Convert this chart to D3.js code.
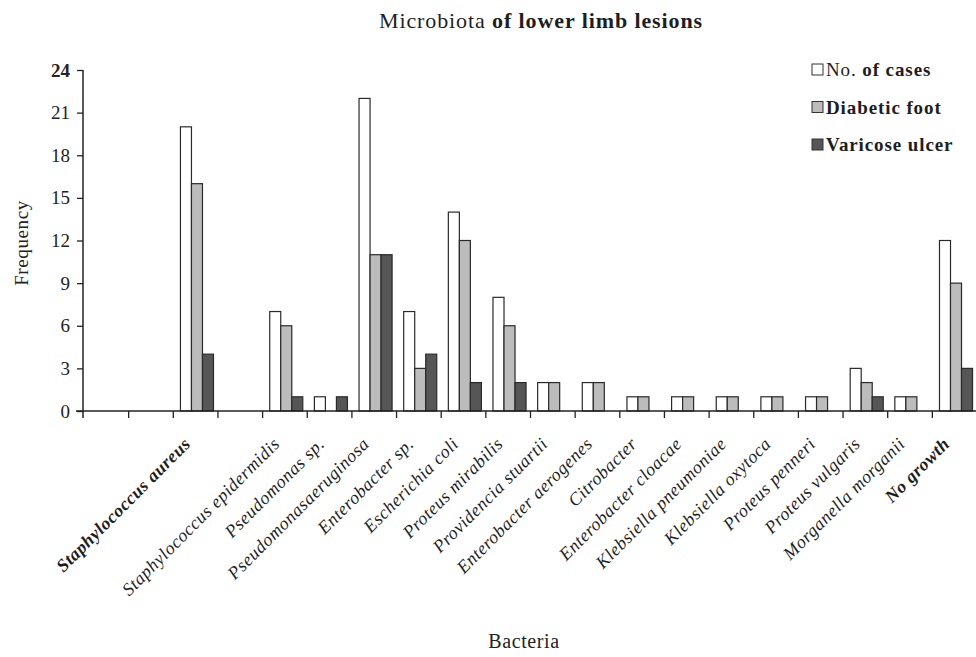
<!DOCTYPE html>
<html><head><meta charset="utf-8">
<script src="https://cdn.jsdelivr.net/npm/d3@7"></script>
<style>body{margin:0;background:#fff}svg{display:block}</style>
</head><body>
<svg id="c" width="976" height="657"></svg>
<script>
const categories = ["", " ", "Staphylococcus aureus", "  ", "Staphylococcus epidermidis", "Pseudomonas sp.", "Pseudomonasaeruginosa", "Enterobacter sp.", "Escherichia coli", "Proteus mirabilis", "Providencia stuartii", "Enterobacter aerogenes", "Citrobacter", "Enterobacter cloacae", "Klebsiella pneumoniae", "Klebsiella oxytoca", "Proteus penneri", "Proteus vulgaris", "Morganella morganii", "No growth"];
const boldCategories = ["Staphylococcus aureus", "No growth"];
const series = ["No. of cases", "Diabetic foot", "Varicose ulcer"];
const cases    = [null, null, 20, null, 7, 1, 22, 7, 14, 8, 2, 2, 1, 1, 1, 1, 1, 3, 1, 12];
const diabetic = [null, null, 16, null, 6, 0, 11, 3, 12, 6, 2, 2, 1, 1, 1, 1, 1, 2, 1, 9];
const varicose = [null, null, 4, null, 1, 1, 11, 4, 2, 2, 0, 0, 0, 0, 0, 0, 0, 1, 0, 3];
const yTicks = [0, 3, 6, 9, 12, 15, 18, 21, 24];
const colors = ["#ffffff", "#bcbcbc", "#565656"];

const svg = d3.select("#c");
const FONT = "'Liberation Serif', 'Times New Roman', serif";

const x = d3.scaleBand().domain(categories).range([84, 977]).padding(0);
const bw = x.bandwidth();
const x1 = d3.scaleBand().domain(series).range([bw * 0.16, bw * 0.9]).padding(0);
const y = d3.scaleLinear().domain([0, 24]).range([411, 70]);

const valuesBySeries = [cases, diabetic, varicose];

// bars
series.forEach((s, si) => {
  const data = categories.map((c, i) => ({c, v: valuesBySeries[si][i]})).filter(d => d.v != null && d.v > 0);
  svg.append("g").selectAll("rect").data(data).join("rect")
    .attr("x", d => x(d.c) + x1(s))
    .attr("y", d => y(d.v))
    .attr("width", x1.bandwidth())
    .attr("height", d => y(0) - y(d.v))
    .attr("fill", colors[si])
    .attr("stroke", "#2a2a2a")
    .attr("stroke-width", 1.2);
});

// y axis
const yAxis = svg.append("g").attr("transform", `translate(${x.range()[0] - 1},0)`)
  .call(d3.axisLeft(y).tickValues(yTicks).tickSize(6).tickPadding(7).tickSizeOuter(0));
yAxis.select(".domain").remove();
yAxis.selectAll(".tick line").attr("stroke", "#222").attr("stroke-width", 1.3);
yAxis.selectAll("text").attr("font-family", FONT).attr("font-size", 19).attr("fill", "#222")
  .attr("font-weight", d => d === 24 ? "bold" : "normal");
svg.append("line").attr("x1", x.range()[0] - 1).attr("x2", x.range()[0] - 1)
  .attr("y1", y(24)).attr("y2", y(0) + 7).attr("stroke", "#222").attr("stroke-width", 1.5);

// x axis baseline and ticks at band boundaries
svg.append("line").attr("x1", x.range()[0] - 8).attr("x2", x.range()[1])
  .attr("y1", y(0)).attr("y2", y(0)).attr("stroke", "#222").attr("stroke-width", 1.5);
svg.append("g").selectAll("line").data(categories.slice(1)).join("line")
  .attr("x1", d => x(d)).attr("x2", d => x(d))
  .attr("y1", y(0)).attr("y2", y(0) + 7)
  .attr("stroke", "#222").attr("stroke-width", 1.3);

// category labels
svg.append("g").selectAll("text").data(categories.filter(c => c.trim() !== "")).join("text")
  .attr("transform", d => `translate(${x(d) + bw / 2 - 4},${y(0) + 34}) rotate(-45)`)
  .attr("text-anchor", "end")
  .attr("font-family", FONT)
  .attr("font-style", "italic")
  .attr("font-size", 18)
  .attr("letter-spacing", 0.5)
  .attr("font-weight", d => boldCategories.includes(d) ? "bold" : "normal")
  .attr("fill", "#1e1e1e")
  .text(d => d);

// title
const title = svg.append("text").attr("x", 541).attr("y", 28).attr("text-anchor", "middle")
  .attr("font-family", FONT).attr("font-size", 22).attr("letter-spacing", 0.9).attr("fill", "#1e1e1e");
title.append("tspan").text("Microbiota ");
title.append("tspan").attr("font-weight", "bold").text("of lower limb lesions");

// axis titles
svg.append("text").attr("transform", "translate(28,243) rotate(-90)").attr("text-anchor", "middle")
  .attr("font-family", FONT).attr("font-size", 19).attr("letter-spacing", 0.6).attr("fill", "#222").text("Frequency");
svg.append("text").attr("x", 524).attr("y", 648).attr("text-anchor", "middle")
  .attr("font-family", FONT).attr("font-size", 20).attr("letter-spacing", 0.6).attr("fill", "#222").text("Bacteria");

// legend
const legend = svg.append("g").attr("transform", "translate(812,64)");
series.forEach((s, si) => {
  const g = legend.append("g").attr("transform", `translate(0,${si * 37.5})`);
  g.append("rect").attr("x", 0).attr("y", 0).attr("width", 11).attr("height", 11)
    .attr("fill", colors[si]).attr("stroke", "#333").attr("stroke-width", 1);
  const t = g.append("text").attr("x", 14).attr("y", 12)
    .attr("font-family", FONT).attr("font-size", 19).attr("letter-spacing", 0.9).attr("fill", "#1e1e1e");
  if (si === 0) {
    t.append("tspan").text("No. ");
    t.append("tspan").attr("font-weight", "bold").text("of cases");
  } else {
    t.attr("font-weight", "bold").text(s);
  }
});
</script>
</body></html>
